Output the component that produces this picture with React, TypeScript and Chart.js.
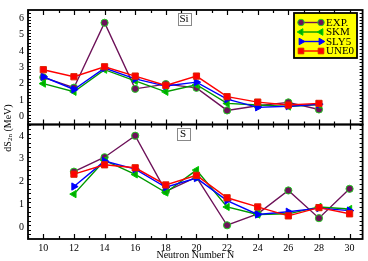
import React, { useEffect, useRef } from 'react';
import { Chart, registerables } from 'chart.js';

Chart.register(...registerables);

// ---------- data ----------
const xTickValues = [10, 12, 14, 16, 18, 20, 22, 24, 26, 28, 30];
const siTickValues = [0, 1, 2, 3, 4, 5, 6];
const sTickValues = [0, 1, 2, 3, 4];

const siN = [10, 12, 14, 16, 18, 20, 22, 24, 26, 28];
const siExp = [2.38, 1.75, 5.72, 1.68, 1.97, 1.74, 0.36, 0.65, 0.85, 0.42];
const siSkm = [2.0, 1.5, 2.85, 2.17, 1.5, 1.93, 0.79, 0.69, 0.6, 0.72];
const siSly5 = [2.42, 1.64, 2.95, 2.29, 1.85, 2.09, 1.05, 0.55, 0.62, 0.74];
const siUne0 = [2.85, 2.42, 3.03, 2.46, 1.89, 2.46, 1.2, 0.87, 0.69, 0.79];

const sN = [12, 14, 16, 18, 20, 22, 24, 26, 28, 30];
const sExp = [2.44, 3.07, 4.01, 1.58, 2.2, 0.1, 0.6, 1.62, 0.41, 1.69];
const sSkm = [1.46, 2.93, 2.32, 1.53, 2.51, 0.9, 0.57, 0.6, 0.9, 0.81];
const sSly5 = [1.79, 2.9, 2.55, 1.76, 2.16, 1.18, 0.57, 0.69, 0.85, 0.74];
const sUne0 = [2.33, 2.74, 2.61, 1.86, 2.28, 1.3, 0.9, 0.51, 0.87, 0.6];

const seriesNames = ['EXP.', 'SKM', 'SLY5', 'UNE0'];

// ---------- styles ----------
const styles = [
  { line: '#6d1259', fill: '#6d1259', border: '#22cc22', pointStyle: 'circle', rotation: 0, radius: 3.6, order: 3 },
  { line: '#009900', fill: '#00aa00', border: '#00cc00', pointStyle: 'triangle', rotation: 270, radius: 4.2, order: 2 },
  { line: '#0000ff', fill: '#0000ff', border: '#0000ff', pointStyle: 'triangle', rotation: 90, radius: 4.2, order: 1 },
  { line: '#ff0000', fill: '#ff0000', border: '#dd2200', pointStyle: 'rect', rotation: 0, radius: 4.4, order: 0 },
];

const FONT = 'Liberation Serif';

function pts(xs: number[], ys: number[]) {
  return xs.map((x, i) => ({ x, y: ys[i] }));
}

function makeDataset(label: string, data: any[], idx: number, axis: string) {
  const s = styles[idx];
  return {
    label,
    data,
    yAxisID: axis,
    borderColor: s.line,
    backgroundColor: s.fill,
    borderWidth: 1.4,
    pointStyle: s.pointStyle,
    pointRotation: s.rotation,
    pointRadius: s.radius,
    pointBackgroundColor: s.fill,
    pointBorderColor: s.border,
    pointBorderWidth: 1,
    order: s.order,
    tension: 0,
    fill: false,
  };
}

function drawMarker(ctx: CanvasRenderingContext2D, idx: number, x: number, y: number) {
  const s = styles[idx];
  const r = s.radius * 0.9;
  ctx.save();
  ctx.fillStyle = s.fill;
  ctx.strokeStyle = s.border;
  ctx.lineWidth = 1;
  ctx.beginPath();
  if (s.pointStyle === 'circle') {
    ctx.arc(x, y, r, 0, Math.PI * 2);
  } else if (s.pointStyle === 'rect') {
    const h = r * Math.SQRT1_2;
    ctx.rect(x - h, y - h, 2 * h, 2 * h);
  } else {
    const rot = (s.rotation * Math.PI) / 180;
    for (let k = 0; k < 3; k++) {
      const a = rot + (k * 2 * Math.PI) / 3;
      const px = x + Math.sin(a) * r;
      const py = y - Math.cos(a) * r;
      if (k === 0) ctx.moveTo(px, py);
      else ctx.lineTo(px, py);
    }
    ctx.closePath();
  }
  ctx.fill();
  ctx.stroke();
  ctx.restore();
}

const decorPlugin = {
  id: 'decor',
  afterDraw(chart: any) {
    const ctx: CanvasRenderingContext2D = chart.ctx;
    const area = chart.chartArea;
    const xs = chart.scales.x;
    const panels = [chart.scales.ySi, chart.scales.yS];
    ctx.save();
    ctx.strokeStyle = '#000';
    ctx.lineWidth = 1.2;
    for (const ys of panels) {
      const top = ys.top;
      const bottom = ys.bottom;
      ctx.beginPath();
      for (let v = Math.ceil(xs.min); v <= xs.max; v++) {
        const px = Math.round(xs.getPixelForValue(v)) + 0.5;
        const len = v % 2 === 0 ? 5 : 3;
        ctx.moveTo(px, top);
        ctx.lineTo(px, top + len);
        ctx.moveTo(px, bottom);
        ctx.lineTo(px, bottom - len);
      }
      const steps = Math.round((ys.max - ys.min) / 0.2);
      for (let k = 0; k <= steps; k++) {
        const v = ys.min + k * 0.2;
        const py = Math.round(ys.getPixelForValue(v)) + 0.5;
        if (py <= top + 0.6 || py >= bottom - 0.6) continue;
        const isMajor = Math.abs(v - Math.round(v)) < 1e-6;
        const len = isMajor ? 5 : 3;
        ctx.moveTo(area.left, py);
        ctx.lineTo(area.left + len, py);
        ctx.moveTo(area.right, py);
        ctx.lineTo(area.right - len, py);
      }
      ctx.stroke();
    }
    ctx.lineWidth = 1.8;
    for (const ys of panels) {
      ctx.strokeRect(area.left, ys.top, area.right - area.left, ys.bottom - ys.top);
    }

    const labels = [
      { text: 'Si', ys: chart.scales.ySi },
      { text: 'S', ys: chart.scales.yS },
    ];
    ctx.font = `11px ${FONT}`;
    ctx.textBaseline = 'middle';
    ctx.textAlign = 'center';
    labels.forEach((l, i) => {
      const cx = i === 0 ? 184 : 183;
      const cy = l.ys.top + 9;
      const w = 13;
      const h = 12;
      ctx.fillStyle = '#fff';
      ctx.fillRect(cx - w / 2, cy - h / 2, w, h);
      ctx.strokeStyle = '#888';
      ctx.lineWidth = 1;
      ctx.strokeRect(Math.round(cx - w / 2) + 0.5, Math.round(cy - h / 2) + 0.5, w, h);
      ctx.fillStyle = '#000';
      ctx.fillText(l.text, cx, cy + 0.5);
    });

    const lx = 294;
    const ly = 13;
    const lw = 63;
    const lh = 45;
    ctx.fillStyle = '#ffff00';
    ctx.fillRect(lx, ly, lw, lh);
    ctx.strokeStyle = '#000';
    ctx.lineWidth = 1.8;
    ctx.strokeRect(lx, ly, lw, lh);
    const rowY = [22.5, 32, 41.5, 51];
    ctx.font = `11px ${FONT}`;
    ctx.textAlign = 'left';
    ctx.textBaseline = 'middle';
    seriesNames.forEach((name, i) => {
      const y = rowY[i];
      ctx.strokeStyle = styles[i].line;
      ctx.lineWidth = 1.4;
      ctx.beginPath();
      ctx.moveTo(301, y);
      ctx.lineTo(321, y);
      ctx.stroke();
      drawMarker(ctx, i, 301, y);
      drawMarker(ctx, i, 321, y);
      ctx.fillStyle = '#000';
      ctx.fillText(name, 326, y + 0.5);
    });

    ctx.save();
    ctx.translate(8, 128);
    ctx.rotate(-Math.PI / 2);
    ctx.fillStyle = '#000';
    ctx.textBaseline = 'middle';
    ctx.textAlign = 'left';
    const big = `10px ${FONT}`;
    const small = `7px ${FONT}`;
    ctx.font = big;
    const w1 = ctx.measureText('dS').width;
    const w3 = ctx.measureText(' (MeV)').width;
    ctx.font = small;
    const w2 = ctx.measureText('2n').width;
    let x0 = -(w1 + w2 + w3) / 2;
    ctx.font = big;
    ctx.fillText('dS', x0, 0);
    x0 += w1;
    ctx.font = small;
    ctx.fillText('2n', x0, 2.5);
    x0 += w2;
    ctx.font = big;
    ctx.fillText(' (MeV)', x0, 0);
    ctx.restore();

    ctx.restore();
  },
};

export default function App() {
  const ref = useRef<HTMLCanvasElement | null>(null);
  useEffect(() => {
    document.body.style.margin = '0';
    Chart.defaults.font.family = FONT;
    Chart.defaults.color = '#000';
    const canvas = ref.current!;
    const datasets = [
      makeDataset(seriesNames[0], pts(siN, siExp), 0, 'ySi'),
      makeDataset(seriesNames[1], pts(siN, siSkm), 1, 'ySi'),
      makeDataset(seriesNames[2], pts(siN, siSly5), 2, 'ySi'),
      makeDataset(seriesNames[3], pts(siN, siUne0), 3, 'ySi'),
      makeDataset(seriesNames[0], pts(sN, sExp), 0, 'yS'),
      makeDataset(seriesNames[1], pts(sN, sSkm), 1, 'yS'),
      makeDataset(seriesNames[2], pts(sN, sSly5), 2, 'yS'),
      makeDataset(seriesNames[3], pts(sN, sUne0), 3, 'yS'),
    ];
    const yCommon = {
      type: 'linear',
      position: 'left',
      stack: 'panels',
      stackWeight: 1,
      grid: { display: false, drawTicks: false },
      border: { display: false },
      ticks: { padding: 4, autoSkip: false, font: { size: 10, family: FONT }, color: '#000' },
      afterFit: (s: any) => {
        s.width = 28;
      },
    };
    const chart = new Chart(canvas, {
      type: 'line',
      data: { datasets: datasets as any },
      options: {
        animation: false,
        responsive: false,
        devicePixelRatio: 1,
        layout: { padding: { top: 2, right: 4, left: 0, bottom: 0 } },
        plugins: { legend: { display: false }, tooltip: { enabled: false } },
        scales: {
          x: {
            type: 'linear',
            min: 9,
            max: 30.85,
            grid: { display: false, drawTicks: false },
            border: { display: false },
            ticks: { padding: 3, autoSkip: false, maxRotation: 0, font: { size: 10, family: FONT }, color: '#000' },
            afterBuildTicks: (s: any) => {
              s.ticks = xTickValues.map((v) => ({ value: v }));
            },
            afterFit: (s: any) => {
              s.height = 22;
            },
            title: {
              display: true,
              text: 'Neutron Number N',
              font: { size: 10, family: FONT },
              color: '#000',
              padding: { top: 0, bottom: 0 },
            },
          },
          yS: {
            ...yCommon,
            min: -0.5,
            max: 4.5,
            afterBuildTicks: (s: any) => {
              s.ticks = sTickValues.map((v) => ({ value: v }));
            },
          },
          ySi: {
            ...yCommon,
            min: -0.5,
            max: 6.5,
            afterBuildTicks: (s: any) => {
              s.ticks = siTickValues.map((v) => ({ value: v }));
            },
          },
        } as any,
      },
      plugins: [decorPlugin],
    });
    return () => chart.destroy();
  }, []);
  return (
    <div style={{ width: 368, height: 261 }}>
      <canvas ref={ref} width={368} height={261} style={{ display: 'block' }} />
    </div>
  );
}
